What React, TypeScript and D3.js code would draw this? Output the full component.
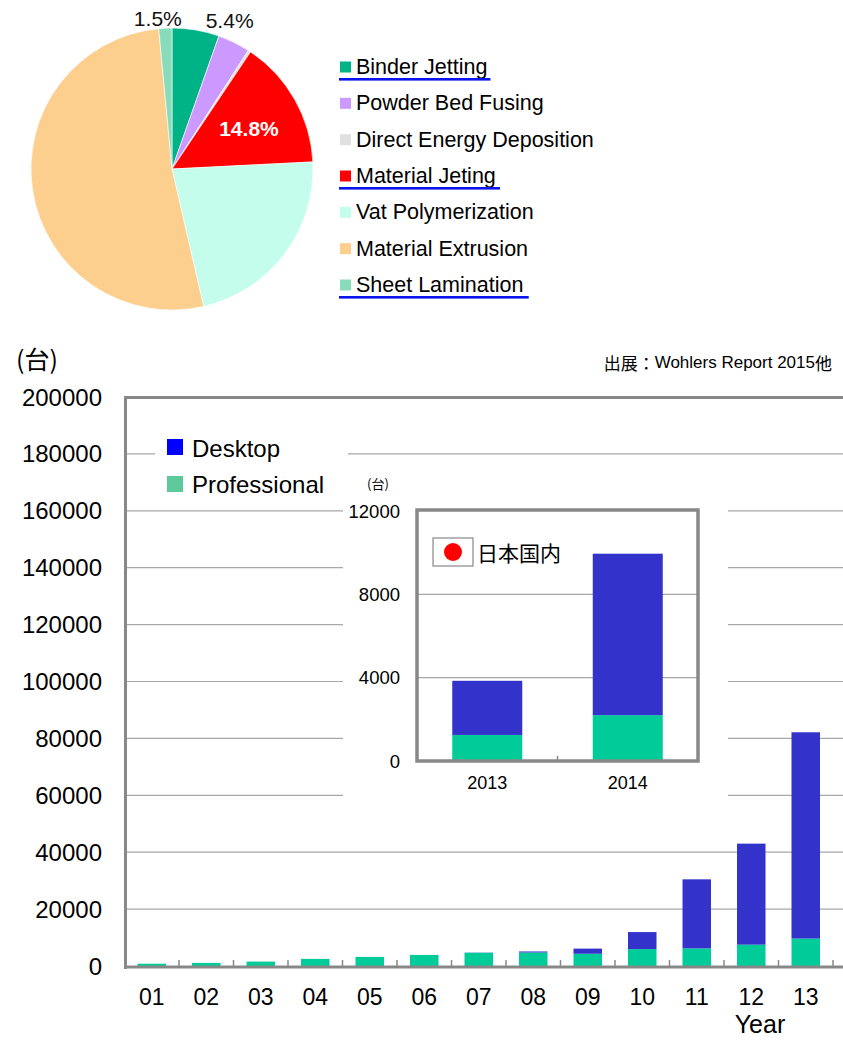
import * as d3 from 'd3';

// pie: share of each process (%)
const pieLabels = [
  'Binder Jetting',
  'Powder Bed Fusing',
  'Direct Energy Deposition',
  'Material Jeting',
  'Vat Polymerization',
  'Material Extrusion',
  'Sheet Lamination',
];
const pieShares = [5.4, 3.7, 0.3, 14.8, 22.2, 52.1, 1.5];
const pieColors = ['#00b386', '#cc99ff', '#e0e0e0', '#ff0000', '#c4fdec', '#fdcf8f', '#88dcb9'];
const underlined = ['Binder Jetting', 'Material Jeting', 'Sheet Lamination'];
const shownShares = ['5.4%', '14.8%', '1.5%'];

// main bars: units shipped per year
const years = ['01', '02', '03', '04', '05', '06', '07', '08', '09', '10', '11', '12', '13'];
const professional = [800, 1100, 1550, 2500, 3200, 3900, 4650, 4750, 4300, 5950, 6200, 7500, 9650];
const desktop = [0, 0, 0, 0, 0, 0, 66, 355, 1816, 5978, 24265, 35508, 72503];
const yTicks = d3.range(0, 200001, 20000);

// inset: Japan domestic
const inYears = ['2013', '2014'];
const inProfessional = [1250, 2200];
const inDesktop = [2600, 7750];
const inTicks = [0, 4000, 8000, 12000];

const FONT = "'Liberation Sans', Arial, sans-serif";
const CJK = "'Noto Sans CJK JP', sans-serif";
const BLUE = '#3333cc';
const GREEN = '#00cc99';
const FRAME = '#888888';
const GRID = '#a8a8a8';
const LEG_SIZE = 21.5;

let ctx: CanvasRenderingContext2D | null = null;
function textWidth(s: string, size: number) {
  if (!ctx) ctx = document.createElement('canvas').getContext('2d');
  if (!ctx) return s.length * size * 0.5;
  ctx.font = `${size}px 'Liberation Sans', Arial, sans-serif`;
  return ctx.measureText(s).width;
}

function Pie() {
  const cx = 172;
  const cy = 169;
  const r = 141;
  const arcs = d3.pie<number>().sort(null).value(d => d)(pieShares);
  const arc = d3.arc<d3.PieArcDatum<number>>().innerRadius(0).outerRadius(r);
  const midArc = d3.arc<d3.PieArcDatum<number>>().innerRadius(0).outerRadius(170);
  const outArc = d3.arc<d3.PieArcDatum<number>>().innerRadius(152).outerRadius(152);

  const legY = d3.scalePoint<string>().domain(pieLabels).range([67, 285]);

  return (
    <g>
      <g transform={`translate(${cx},${cy})`}>
        {arcs.map((a, i) => (
          <path key={i} d={arc(a) || ''} fill={pieColors[i]} stroke="#fff" strokeWidth={0.6} />
        ))}
        {arcs.map((a, i) => {
          const lbl = `${pieShares[i]}%`;
          if (!shownShares.includes(lbl)) return null;
          if (pieShares[i] > 10) {
            const [x, y] = midArc.centroid(a);
            return (
              <text key={i} x={x + 3} y={y + 1} fill="#fff" fontWeight="bold" fontSize={21}
                textAnchor="middle" dominantBaseline="central" fontFamily={FONT}>
                {lbl}
              </text>
            );
          }
          const [x, y] = outArc.centroid(a);
          const left = i === pieShares.length - 1;
          return (
            <text key={i} x={left ? x + 17 : x + 8} y={y + 1} fill="#111" fontSize={21}
              textAnchor={left ? 'end' : 'start'} dominantBaseline="central" fontFamily={FONT}
              textLength={48} lengthAdjust="spacingAndGlyphs">
              {lbl}
            </text>
          );
        })}
      </g>
      {pieLabels.map((name, i) => {
        const y = legY(name)!;
        const width = textWidth(name, LEG_SIZE);
        return (
          <g key={name}>
            <rect x={340} y={y - 5.5} width={11} height={11} fill={pieColors[i]} />
            <text x={356} y={y} fontSize={LEG_SIZE} fontFamily={FONT} dominantBaseline="central" fill="#000">
              {name}
            </text>
            {underlined.includes(name) && (
              <rect x={339} y={y + 11} width={width + 20 + i * 0.4} height={2.6} fill="#0a14ee" />
            )}
          </g>
        );
      })}
    </g>
  );
}

function Inset() {
  const left = 417;
  const right = 698;
  const top = 511;
  const bottom = 761;
  const x = d3.scaleBand<string>().domain(inYears).range([left, right]).paddingInner(0).paddingOuter(0);
  const y = d3.scaleLinear().domain([0, 12000]).range([bottom, top]);
  const stack = d3.stack<number>().keys(['p', 'd'])
    .value((i, k) => (k === 'p' ? inProfessional[i] : inDesktop[i]))(d3.range(inYears.length));
  const colors = [GREEN, BLUE];
  const bw = 70;

  return (
    <g>
      <rect x={343} y={468} width={385} height={338} fill="#fff" />
      <text x={378} y={483} fontSize={13} fontFamily={CJK} textAnchor="middle" dominantBaseline="central">
        (台)
      </text>
      {inTicks.map(t => (
        <text key={t} x={400} y={y(t)} fontSize={18.5} fontFamily={FONT} textAnchor="end"
          dominantBaseline="central" fill="#000">
          {t}
        </text>
      ))}
      {inTicks.filter(t => t > 0 && t < 12000).map(t => (
        <line key={t} x1={left} x2={right} y1={y(t)} y2={y(t)} stroke={GRID} strokeWidth={1.2} />
      ))}
      {stack.map((s, si) =>
        s.map((d, i) => (
          <rect key={`${si}-${i}`} x={x(inYears[i])! + x.bandwidth() / 2 - bw / 2} y={y(d[1])}
            width={bw} height={y(d[0]) - y(d[1])} fill={colors[si]} />
        ))
      )}
      <line x1={left + x.bandwidth()} x2={left + x.bandwidth()} y1={bottom} y2={bottom - 5} stroke={FRAME} strokeWidth={1.5} />
      <rect x={left} y={top - 1} width={right - left} height={bottom - top + 1} fill="none" stroke={FRAME} strokeWidth={3.5} />
      {inYears.map(yr => (
        <text key={yr} x={x(yr)! + x.bandwidth() / 2} y={783} fontSize={18} fontFamily={FONT}
          textAnchor="middle" dominantBaseline="central" fill="#000">
          {yr}
        </text>
      ))}
      <rect x={433} y={538} width={40} height={28} fill="#fff" stroke={FRAME} strokeWidth={1.2} />
      <circle cx={453} cy={552} r={9} fill="#ff0000" />
      <text x={477} y={552} fontSize={21} fontFamily={CJK} dominantBaseline="central" fill="#000">
        日本国内
      </text>
    </g>
  );
}

function Bars() {
  const left = 124.5;
  const band = 54.5;
  const x = d3.scaleBand<string>().domain(years).range([left, left + band * years.length]);
  const y = d3.scaleLinear().domain([0, 200000]).range([966, 397]);
  const stack = d3.stack<number>().keys(['p', 'd'])
    .value((i, k) => (k === 'p' ? professional[i] : desktop[i]))(d3.range(years.length));
  const colors = [GREEN, BLUE];
  const bw = 28.5;

  return (
    <g>
      {yTicks.filter(t => t > 0 && t < 200000).map(t => (
        <line key={t} x1={left} x2={843} y1={y(t)} y2={y(t)} stroke={GRID} strokeWidth={1.2} />
      ))}
      {yTicks.map(t => (
        <text key={t} x={102} y={y(t)} fontSize={24} fontFamily={FONT} textAnchor="end"
          dominantBaseline="central" fill="#000">
          {t}
        </text>
      ))}
      {stack.map((s, si) =>
        s.map((d, i) => (
          <rect key={`${si}-${i}`} x={x(years[i])! + x.bandwidth() / 2 - bw / 2} y={y(d[1])}
            width={bw} height={Math.max(0, y(d[0]) - y(d[1]))} fill={colors[si]} />
        ))
      )}
      {years.map(yr => (
        <line key={yr} x1={x(yr)! + band} x2={x(yr)! + band} y1={966} y2={960} stroke={FRAME} strokeWidth={1.5} />
      ))}
      {years.map(yr => (
        <text key={yr} x={x(yr)! + x.bandwidth() / 2} y={997} fontSize={23} fontFamily={FONT}
          textAnchor="middle" dominantBaseline="central" fill="#000">
          {yr}
        </text>
      ))}
      <line x1={124} x2={843} y1={397.5} y2={397.5} stroke={FRAME} strokeWidth={3} />
      <line x1={125.5} x2={125.5} y1={396} y2={969} stroke={FRAME} strokeWidth={3} />
      <line x1={124} x2={843} y1={967} y2={967} stroke={FRAME} strokeWidth={3} />
      <text x={760} y={1024} fontSize={25} fontFamily={FONT} textAnchor="middle" dominantBaseline="central">
        Year
      </text>

      {/* legend */}
      <rect x={155} y={426} width={193} height={72} fill="#fff" />
      <rect x={167} y={439} width={16} height={16} fill="#0000ff" />
      <text x={192} y={448} fontSize={24} fontFamily={FONT} dominantBaseline="central">Desktop</text>
      <rect x={167} y={476} width={16} height={16} fill="#5ec99b" />
      <text x={192} y={484} fontSize={24} fontFamily={FONT} dominantBaseline="central">Professional</text>
    </g>
  );
}

export default function App() {
  return (
    <svg width={843} height={1040} style={{ position: 'absolute', left: 0, top: 0, background: '#fff' }}>
      <rect width={843} height={1040} fill="#fff" />
      <Pie />
      <text x={16} y={358} fontSize={25} fontFamily={CJK} dominantBaseline="central">(台)</text>
      <text x={832} y={362} fontSize={17} fontFamily={CJK} textAnchor="end" dominantBaseline="central">
        出展：<tspan fontFamily={FONT}>Wohlers Report 2015</tspan>他
      </text>
      <Bars />
      <Inset />
    </svg>
  );
}
